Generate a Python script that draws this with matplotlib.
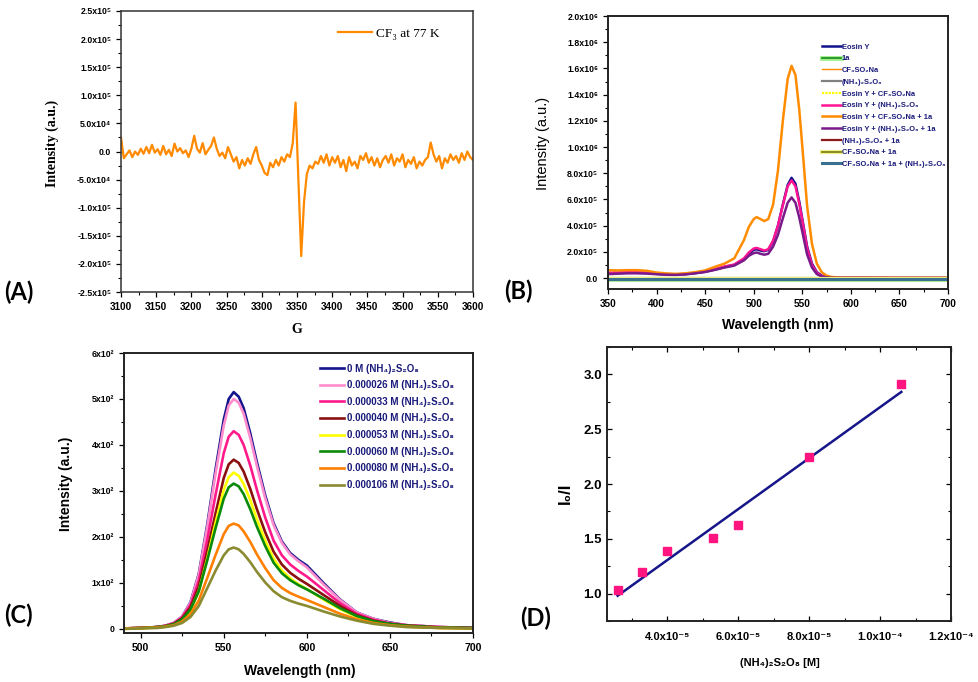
import numpy as np
import matplotlib
matplotlib.use('Agg')
import matplotlib.pyplot as plt
import matplotlib.patheffects as pe
from matplotlib.ticker import MultipleLocator

SANS = ['Liberation Sans', 'DejaVu Sans']
SERIF = ['Liberation Serif', 'DejaVu Serif']
plt.rcParams['font.family'] = SANS

# ---------------- Panel A : EPR spectrum ----------------
a_field = np.arange(3100, 3601, 4)
a_intensity_k = [
    25, -12, -5, 2, -10, 0, -6, 5, -4, 8,
    -3, 12, -2, 4, -6, 10, -5, 3, -8, 14,
    0, 6, -3, 2, -10, 5, 28, 5, -2, 15,
    -5, 3, 10, 25, 5, -8, -2, -12, 8, -5,
    -18, -10, -30, -15, -25, -12, -22, -5, 8, -15,
    -25, -38, -42, -20, -28, -15, -25, -10, -18, -5,
    -10, 15, 87, -50, -186, -90, -40, -25, -30, -18,
    -22, -8, -20, -5, -25, -10, -20, -8, -28, -15,
    -35, -10, -25, -18, -30, -8, -15, -3, -20, -10,
    -25, -12, -28, -15, -8, -20, -5, -25, -12, -18,
    -5, -28, -15, -22, -10, -30, -18, -25, -15, -10,
    16, -5, -18, -8, -30, -12, -20, -5, -15, -8,
    -20, -3, -15, 0, -10, -15]
a_yticks = [-2.5e5, -2.0e5, -1.5e5, -1.0e5, -5e4, 0, 5e4, 1.0e5, 1.5e5, 2.0e5, 2.5e5]
a_ytick_labels = ['-2.5x10⁵', '-2.0x10⁵', '-1.5x10⁵', '-1.0x10⁵', '-5.0x10⁴', '0.0',
                  '5.0x10⁴', '1.0x10⁵', '1.5x10⁵', '2.0x10⁵', '2.5x10⁵']
a_xticks = [3100, 3150, 3200, 3250, 3300, 3350, 3400, 3450, 3500, 3550, 3600]

# ---------------- Panel B : emission spectra ----------------
b_wl = [350, 360, 370, 380, 390, 400, 410, 420, 430, 440, 450, 460, 470, 480, 490, 495,
        500, 503, 507, 511, 515, 520, 525, 530, 535, 539, 543, 547, 551, 555, 560, 565,
        570, 575, 580, 590, 600, 650, 700]
b_eosin = [0.035, 0.038, 0.040, 0.040, 0.038, 0.032, 0.028, 0.027, 0.030, 0.038, 0.048, 0.065,
           0.085, 0.100, 0.145, 0.185, 0.215, 0.220, 0.210, 0.205, 0.215, 0.280, 0.400, 0.560,
           0.710, 0.765, 0.720, 0.580, 0.410, 0.240, 0.110, 0.045, 0.018, 0.007, 0.003, 0.001,
           0.001, 0.0, 0.0]
b_eosin_aps = [0.040, 0.042, 0.044, 0.045, 0.042, 0.035, 0.030, 0.028, 0.031, 0.040, 0.050, 0.067,
               0.088, 0.103, 0.150, 0.195, 0.225, 0.230, 0.220, 0.210, 0.220, 0.285, 0.400, 0.555,
               0.700, 0.745, 0.700, 0.565, 0.400, 0.230, 0.100, 0.040, 0.015, 0.006, 0.003, 0.001,
               0.001, 0.0, 0.0]
b_eosin_cf3_1a = [0.060, 0.058, 0.060, 0.060, 0.055, 0.042, 0.035, 0.032, 0.036, 0.045, 0.058, 0.085,
                  0.110, 0.150, 0.290, 0.390, 0.450, 0.465, 0.450, 0.435, 0.450, 0.560, 0.820, 1.200,
                  1.520, 1.620, 1.550, 1.280, 0.920, 0.550, 0.260, 0.110, 0.045, 0.018, 0.008, 0.004,
                  0.003, 0.002, 0.002]
b_eosin_aps_1a = [0.030, 0.033, 0.036, 0.036, 0.034, 0.029, 0.025, 0.024, 0.028, 0.036, 0.046, 0.062,
                  0.080, 0.095, 0.135, 0.170, 0.190, 0.195, 0.185, 0.178, 0.185, 0.240, 0.330, 0.455,
                  0.575, 0.615, 0.575, 0.460, 0.320, 0.180, 0.080, 0.030, 0.012, 0.005, 0.002, 0.001,
                  0.001, 0.0, 0.0]
b_wl_flat = [350, 700]
b_1a = [-0.004, -0.004]
b_cf3 = [0.003, 0.003]
b_aps = [-0.002, -0.002]
b_eosin_cf3 = [0.0, 0.0]
b_aps_1a = [-0.004, -0.004]
b_cf3_1a = [-0.006, -0.006]
b_cf3_1a_aps = [-0.008, -0.008]
b_labels = ['Eosin Y', '1a', 'CF₃SO₂Na', '(NH₄)₂S₂O₈', 'Eosin Y + CF₃SO₂Na',
            'Eosin Y + (NH₄)₂S₂O₈', 'Eosin Y + CF₃SO₂Na + 1a', 'Eosin Y + (NH₄)₂S₂O₈ + 1a',
            '(NH₄)₂S₂O₈ + 1a', 'CF₃SO₂Na + 1a', 'CF₃SO₂Na + 1a + (NH₄)₂S₂O₈']
b_yticks = [0.0, 0.2, 0.4, 0.6, 0.8, 1.0, 1.2, 1.4, 1.6, 1.8, 2.0]
b_ytick_labels = ['0.0', '2.0x10⁵', '4.0x10⁵', '6.0x10⁵', '8.0x10⁵', '1.0x10⁶', '1.2x10⁶',
                  '1.4x10⁶', '1.6x10⁶', '1.8x10⁶', '2.0x10⁶']
b_xticks = [350, 400, 450, 500, 550, 600, 650, 700]

# ---------------- Panel C : quenching spectra ----------------
c_wl = [490, 500, 510, 515, 520, 525, 530, 535, 540, 545, 550, 553, 556, 559, 562, 566, 570,
        575, 580, 585, 590, 595, 600, 610, 620, 630, 640, 650, 660, 680, 700]
c_0 = [1, 2, 4, 7, 13, 27, 58, 120, 225, 345, 455, 500, 515, 505, 480, 425, 362,
       290, 230, 190, 165, 150, 138, 100, 64, 36, 22, 14, 8, 4, 2]
c_26 = [1, 2, 4, 7, 13, 27, 57, 118, 220, 336, 442, 486, 500, 492, 468, 415, 354,
        284, 226, 187, 162, 147, 134, 97, 63, 36, 22, 13, 8, 4, 2]
c_33 = [1, 2, 4, 7, 12, 25, 52, 105, 192, 290, 382, 418, 430, 422, 400, 355, 302,
        242, 192, 160, 140, 126, 114, 85, 56, 33, 20, 12, 8, 4, 2]
c_40 = [1, 2, 4, 6, 11, 23, 47, 92, 168, 250, 328, 358, 368, 361, 342, 304, 260,
        210, 168, 140, 122, 109, 98, 74, 50, 30, 18, 11, 7, 3, 2]
c_53 = [0, 1, 3, 5, 9, 19, 40, 82, 152, 230, 302, 330, 340, 333, 315, 280, 238,
        192, 153, 127, 110, 97, 87, 64, 43, 26, 15, 9, 5, 2, 1]
c_60 = [1, 2, 4, 6, 10, 21, 42, 82, 148, 218, 283, 308, 316, 310, 293, 260, 222,
        180, 144, 121, 106, 95, 86, 66, 45, 28, 17, 11, 7, 3, 2]
c_80 = [1, 2, 3, 5, 8, 16, 32, 62, 110, 160, 206, 224, 229, 225, 212, 189, 162,
        132, 106, 89, 78, 70, 63, 48, 33, 21, 13, 8, 5, 2, 1]
c_106 = [0, 1, 2, 4, 7, 13, 26, 50, 88, 126, 160, 173, 177, 173, 163, 145, 124,
         101, 82, 69, 61, 55, 50, 38, 27, 18, 11, 7, 4, 2, 1]
c_labels = ['0 M (NH₄)₂S₂O₈', '0.000026 M (NH₄)₂S₂O₈', '0.000033 M (NH₄)₂S₂O₈',
            '0.000040 M (NH₄)₂S₂O₈', '0.000053 M (NH₄)₂S₂O₈', '0.000060 M (NH₄)₂S₂O₈',
            '0.000080 M (NH₄)₂S₂O₈', '0.000106 M (NH₄)₂S₂O₈']
c_colors = ['#14148c', '#ff8ccc', '#ff1a8c', '#8b1010', '#ffff00', '#0a8a0a', '#ff8000', '#8a8a30']
c_yticks = [0, 100, 200, 300, 400, 500, 600]
c_ytick_labels = ['0', '1x10²', '2x10²', '3x10²', '4x10²', '5x10²', '6x10²']
c_xticks = [500, 550, 600, 650, 700]

# ---------------- Panel D : Stern-Volmer ----------------
d_conc = [2.6e-5, 3.3e-5, 4.0e-5, 5.3e-5, 6.0e-5, 8.0e-5, 1.06e-4]
d_ratio = [1.03, 1.20, 1.39, 1.51, 1.63, 2.25, 2.91]
d_fit_slope = 23250.0
d_fit_intercept = 0.376
d_xticks = [4e-5, 6e-5, 8e-5, 1.0e-4, 1.2e-4]
d_xtick_labels = ['4.0x10⁻⁵', '6.0x10⁻⁵', '8.0x10⁻⁵', '1.0x10⁻⁴', '1.2x10⁻⁴']
d_yticks = [1.0, 1.5, 2.0, 2.5, 3.0]
d_ytick_labels = ['1.0', '1.5', '2.0', '2.5', '3.0']

TXT_BLUE = '#1a1a7a'

fig = plt.figure(figsize=(9.79, 6.82), dpi=100)


def style_ticks(ax, xsize, ysize, direction='out', mirror=False):
    ax.tick_params(which='major', direction=direction, length=3.5, width=0.9,
                   top=mirror, right=mirror)
    ax.tick_params(which='minor', direction=direction, length=2, width=0.8,
                   top=mirror, right=mirror)
    for t in ax.get_xticklabels():
        t.set_fontweight('bold'); t.set_fontsize(xsize)
    for t in ax.get_yticklabels():
        t.set_fontweight('bold'); t.set_fontsize(ysize)


# ----- A -----
axA = fig.add_axes([0.1236, 0.5718, 0.3595, 0.4121])
axA.plot(a_field, np.array(a_intensity_k) * 1e3, color='#ff8a00', lw=1.6,
         label='CF₃ at 77 K')
axA.set_xlim(3100, 3600)
axA.set_ylim(-2.5e5, 2.5e5)
axA.set_xticks(a_xticks)
axA.set_yticks(a_yticks, a_ytick_labels)
axA.xaxis.set_minor_locator(MultipleLocator(25))
axA.yaxis.set_minor_locator(MultipleLocator(2.5e4))
style_ticks(axA, 7.2, 6.3)
for s in axA.spines.values():
    s.set_linewidth(1.1); s.set_color('#333333')
axA.set_ylabel('Intensity (a.u.)', family=SERIF, fontweight='bold', fontsize=10)
axA.yaxis.set_label_coords(-0.175, 0.53)
axA.set_xlabel('G', family=SERIF, fontweight='bold', fontsize=10)
axA.xaxis.set_label_coords(0.5, -0.11)
axA.legend(loc='center left', bbox_to_anchor=(0.616, 0.92), frameon=False,
           borderpad=0, borderaxespad=0, handlelength=2.6, handletextpad=0.3,
           prop={'family': SERIF, 'size': 9.5})

# ----- B -----
axB = fig.add_axes([0.6210, 0.5762, 0.3473, 0.4003])
lw = 1.8
axB.plot(b_wl, np.array(b_eosin) * 1e6, color='#10108c', lw=lw, label=b_labels[0])
axB.plot(b_wl_flat, np.array(b_1a) * 1e6, color='#1a8a1a', lw=1.2, label=b_labels[1],
         path_effects=[pe.Stroke(linewidth=3.5, foreground='#a0f090'), pe.Normal()])
axB.plot(b_wl_flat, np.array(b_cf3) * 1e6, color='#ff8a00', lw=1.0, label=b_labels[2])
axB.plot(b_wl_flat, np.array(b_aps) * 1e6, color='#808080', lw=1.6, label=b_labels[3])
axB.plot(b_wl_flat, np.array(b_eosin_cf3) * 1e6, color='#ffff00', lw=1.6, ls=(0, (1, 0.5)),
         label=b_labels[4])
axB.plot(b_wl, np.array(b_eosin_aps) * 1e6, color='#ff1493', lw=lw, label=b_labels[5])
axB.plot(b_wl, np.array(b_eosin_cf3_1a) * 1e6, color='#ff8c00', lw=lw, label=b_labels[6])
axB.plot(b_wl, np.array(b_eosin_aps_1a) * 1e6, color='#7a1a8a', lw=lw, label=b_labels[7])
axB.plot(b_wl_flat, np.array(b_aps_1a) * 1e6, color='#8b1a1a', lw=1.6, label=b_labels[8])
axB.plot(b_wl_flat, np.array(b_cf3_1a) * 1e6, color='#8a8a30', lw=1.4, label=b_labels[9],
         path_effects=[pe.Stroke(linewidth=3, foreground='#f0f080'), pe.Normal()])
axB.plot(b_wl_flat, np.array(b_cf3_1a_aps) * 1e6, color='#3a7090', lw=2.2, label=b_labels[10])
axB.set_xlim(350, 700)
axB.set_ylim(-0.084e6, 2.0e6)
axB.set_xticks(b_xticks)
axB.set_yticks(np.array(b_yticks) * 1e6, b_ytick_labels)
axB.xaxis.set_minor_locator(MultipleLocator(25))
axB.yaxis.set_minor_locator(MultipleLocator(1e5))
style_ticks(axB, 7.2, 6.3)
for s in axB.spines.values():
    s.set_linewidth(1.4); s.set_color('#222222')
axB.set_ylabel('Intensity (a.u.)', fontsize=10.5)
axB.yaxis.set_label_coords(-0.17, 0.535)
axB.set_xlabel('Wavelength (nm)', fontweight='bold', fontsize=10)
axB.xaxis.set_label_coords(0.5, -0.105)
legB = axB.legend(loc='upper left', bbox_to_anchor=(0.629, 0.90), frameon=False,
                  borderpad=0, borderaxespad=0, handlelength=2.5, handletextpad=0.15,
                  labelspacing=0.6, prop={'weight': 'bold', 'size': 5.4})
for t in legB.get_texts():
    t.set_color(TXT_BLUE)

# ----- C -----
axC = fig.add_axes([0.1267, 0.0718, 0.3564, 0.4106])
for vals, col, lab in zip([c_0, c_26, c_33, c_40, c_53, c_60, c_80, c_106], c_colors, c_labels):
    axC.plot(c_wl, vals, color=col, lw=1.9, label=lab)
axC.set_xlim(490, 700)
axC.set_ylim(-9, 600)
axC.set_xticks(c_xticks)
axC.set_yticks(c_yticks, c_ytick_labels)
axC.xaxis.set_minor_locator(MultipleLocator(25))
axC.yaxis.set_minor_locator(MultipleLocator(50))
style_ticks(axC, 7.5, 6.3)
for s in axC.spines.values():
    s.set_linewidth(1.4); s.set_color('#222222')
axC.set_ylabel('Intensity (a.u.)', fontweight='bold', fontsize=10)
axC.yaxis.set_label_coords(-0.145, 0.532)
axC.set_xlabel('Wavelength (nm)', fontweight='bold', fontsize=10)
axC.xaxis.set_label_coords(0.504, -0.112)
legC = axC.legend(loc='upper left', bbox_to_anchor=(0.562, 0.962), frameon=False,
                  borderpad=0, borderaxespad=0, handlelength=2.5, handletextpad=0.3,
                  labelspacing=0.68, prop={'weight': 'bold', 'size': 7})
for t in legC.get_texts():
    t.set_color(TXT_BLUE)

# ----- D -----
axD = fig.add_axes([0.6200, 0.0894, 0.3514, 0.4018])
fit_x = np.array([min(d_conc), max(d_conc)])
axD.plot(fit_x, d_fit_intercept + d_fit_slope * fit_x, color='#16168a', lw=1.8, zorder=2)
axD.plot(d_conc, d_ratio, 's', color='#ff1480', ms=5.2, zorder=3)
axD.set_xlim(2.3e-5, 1.2e-4)
axD.set_ylim(0.75, 3.25)
axD.set_xticks(d_xticks, d_xtick_labels)
axD.set_yticks(d_yticks, d_ytick_labels)
axD.xaxis.set_minor_locator(MultipleLocator(1e-5))
axD.yaxis.set_minor_locator(MultipleLocator(0.25))
style_ticks(axD, 8, 9.5, direction='in', mirror=True)
axD.tick_params(axis='x', which='major', pad=8)
for s in axD.spines.values():
    s.set_linewidth(1.4); s.set_color('#222222')
axD.set_ylabel('I₀/I', fontweight='bold', fontsize=12)
axD.yaxis.set_label_coords(-0.10, 0.467)
axD.set_xlabel('(NH₄)₂S₂O₈ [M]', fontweight='bold', fontsize=8)
axD.xaxis.set_label_coords(0.503, -0.135)

# ----- panel letters -----
for (x, y, lab) in [(0.0194, 0.5718, '(A)'), (0.530, 0.5733, '(B)'),
                    (0.0184, 0.0982, '(C)'), (0.5475, 0.0938, '(D)')]:
    fig.text(x, y, lab, ha='center', va='center', fontsize=17, fontweight='bold',
             family=['Lato', 'DejaVu Sans'])

fig.savefig('out.png', dpi=100)
